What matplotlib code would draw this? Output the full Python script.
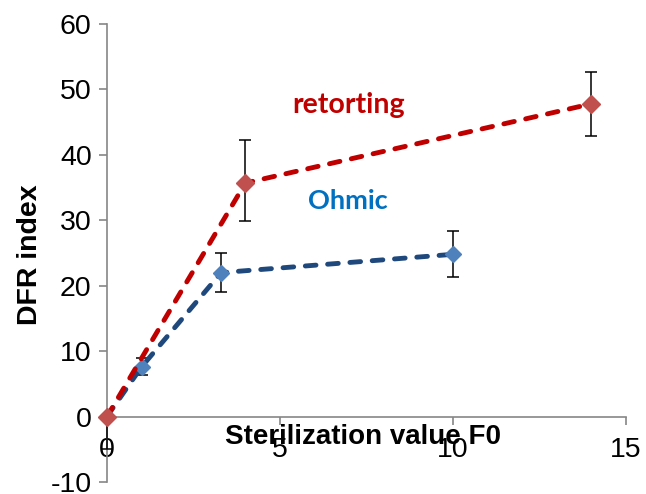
# DFR index vs sterilization value, retorting vs ohmic heating
import numpy as np
import matplotlib.pyplot as plt

#%% data
f0_ret = [0, 4, 14]
dfr_ret = [0, 35.7, 47.8]
err_ret_lo = [5, 5.8, 4.9]
err_ret_hi = [0, 6.6, 4.9]

f0_ohm = [0, 1, 3.3, 10]
dfr_ohm = [0, 7.6, 22.0, 24.8]
err_ohm = [0, 1.3, 3.0, 3.5]

xticks = [0, 5, 10, 15]
yticks = [-10, 0, 10, 20, 30, 40, 50, 60]

red_line, red_mark = '#C00000', '#C0504D'
blue_line, blue_mark = '#1F497D', '#4F81BD'
grey = '#868686'

plt.rcParams['font.family'] = ['Liberation Sans', 'DejaVu Sans']
plt.rcParams['axes.unicode_minus'] = False

fig = plt.figure(figsize=(6.46, 4.94), dpi=100)
ax = fig.add_axes([0.1656, 0.0243, 0.8034, 0.9271])

# series
eb = ax.errorbar(f0_ohm, dfr_ohm, yerr=err_ohm, fmt='none', ecolor='black',
                 elinewidth=1.1, capsize=4.3, capthick=1.1, zorder=2.6)
for art in eb.lines[1] + eb.lines[2]:
    art.set_clip_on(False)
ax.plot(f0_ohm, dfr_ohm, color=blue_line, lw=3.5, dashes=(2.2, 2.4),
        dash_capstyle='round', zorder=3)
ax.plot(f0_ohm, dfr_ohm, 'D', color=blue_mark, ms=8.6, mec=blue_mark, zorder=4,
        clip_on=False)

eb = ax.errorbar(f0_ret, dfr_ret, yerr=[err_ret_lo, err_ret_hi], fmt='none',
                 ecolor='black', elinewidth=1.1, capsize=4.3, capthick=1.1,
                 zorder=2.6)
for art in eb.lines[1] + eb.lines[2]:
    art.set_clip_on(False)
ax.plot(f0_ret, dfr_ret, color=red_line, lw=3.5, dashes=(2.2, 2.4),
        dash_capstyle='round', zorder=5)
ax.plot(f0_ret, dfr_ret, 'D', color=red_mark, ms=9.2, mec=red_mark, zorder=6,
        clip_on=False)

ax.text(6.97, 46.4, 'retorting', color='#C00000', fontsize=20.5,
        fontweight='bold', family='Lato', ha='center', va='baseline')
ax.text(6.97, 31.7, 'Ohmic', color='#0070C0', fontsize=19.5,
        fontweight='bold', family='Lato', ha='center', va='baseline')

# axes, excel style
ax.set_xlim(0, 15)
ax.set_ylim(-10, 60)
ax.set_xticks(xticks)
ax.set_yticks(yticks)
ax.spines['top'].set_visible(False)
ax.spines['right'].set_visible(False)
ax.spines['bottom'].set_position(('data', 0))
for s in ['left', 'bottom']:
    ax.spines[s].set_color(grey)
    ax.spines[s].set_linewidth(1.2)
ax.tick_params(axis='both', colors=grey, labelcolor='black', labelsize=20.5,
               length=6, width=1.2, direction='out')
ax.tick_params(axis='x', pad=9)
ax.tick_params(axis='y', pad=5)

ax.set_xlabel('Sterilization value F0', fontsize=20, fontweight='bold')
ax.xaxis.set_label_coords(0.493, 0.098)
ax.xaxis.label.set_va('center')
ax.set_ylabel('DFR index', fontsize=20.5, fontweight='bold')
ax.yaxis.set_label_coords(-0.148, 0.496)
ax.yaxis.label.set_va('center')

fig.savefig('out.png', dpi=100)
